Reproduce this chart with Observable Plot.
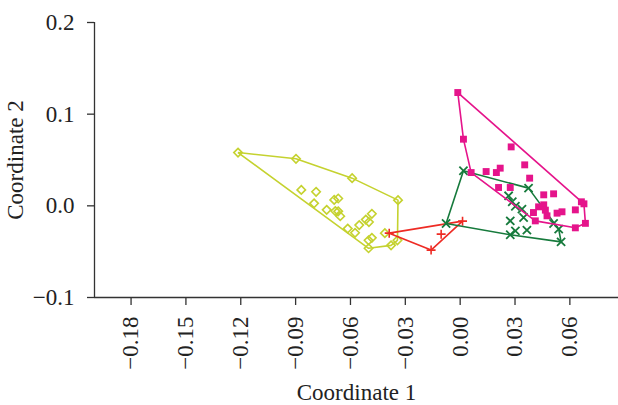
<!DOCTYPE html>
<html>
<head>
<meta charset="utf-8">
<script src="https://cdn.jsdelivr.net/npm/d3@7"></script>
<script src="https://cdn.jsdelivr.net/npm/@observablehq/plot@0.6"></script>
<style>
  html, body { margin: 0; padding: 0; background: #fff; }
</style>
</head>
<body>
<div id="chart"></div>
<script>
// Group 1 (yellow-green diamonds)
const yellowX = [-0.1215, -0.0898, -0.0591, -0.0340, -0.0343, -0.0378, -0.0501,
  -0.0869, -0.0788, -0.0799, -0.0689, -0.0667, -0.0730, -0.0683, -0.0667, -0.0656,
  -0.0615, -0.0575, -0.0552, -0.0516, -0.0499, -0.0483, -0.0412, -0.0501, -0.0483];
const yellowY = [0.0581, 0.0513, 0.0302, 0.0062, -0.0376, -0.0431, -0.0463,
  0.0174, 0.0153, 0.0027, 0.0065, 0.0080, -0.0044, -0.0057, -0.0060, -0.0113,
  -0.0248, -0.0294, -0.0210, -0.0150, -0.0177, -0.0087, -0.0298, -0.0376, -0.0349];

// Group 2 (red plus)
const redX = [-0.0388, 0.0013, -0.0159, -0.0104];
const redY = [-0.0298, -0.0167, -0.0483, -0.0309];

// Group 3 (green times)
const greenX = [0.0018, 0.0374, 0.0552, 0.0274, -0.0077, 0.0265, 0.0285, 0.0302,
  0.0338, 0.0347, 0.0274, 0.0302, 0.0365, 0.0511, 0.0539];
const greenY = [0.0382, 0.0193, -0.0393, -0.0316, -0.0193, 0.0109, 0.0044, -0.0005,
  -0.0036, -0.0128, -0.0164, -0.0273, -0.0265, -0.0193, -0.0254];

// Group 4 (pink squares)
const pinkX = [-0.0013, 0.0018, 0.0060, 0.0142, 0.0198, 0.0219, 0.0279, 0.0353, 0.0380,
  0.0210, 0.0274, 0.0457, 0.0511, 0.0663, 0.0677, 0.0630, 0.0685, 0.0630, 0.0429,
  0.0457, 0.0466, 0.0401, 0.0411, 0.0530, 0.0557, 0.0475];
const pinkY = [0.1236, 0.0727, 0.0363, 0.0374, 0.0363, 0.0411, 0.0643, 0.0447, 0.0302,
  0.0200, 0.0200, 0.0120, 0.0131, 0.0044, 0.0022, -0.0044, -0.0191, -0.0240, -0.0011,
  0.0011, -0.0047, -0.0073, -0.0164, -0.0080, -0.0065, -0.0109];

const xTicks = [-0.18, -0.15, -0.12, -0.09, -0.06, -0.03, 0.00, 0.03, 0.06];
const yTicks = [-0.1, 0.0, 0.1, 0.2];

const toRows = (xs, ys) => xs.map((x, i) => ({x, y: ys[i]}));
const yellow = toRows(yellowX, yellowY);
const red = toRows(redX, redY);
const green = toRows(greenX, greenY);
const pink = toRows(pinkX, pinkY);

const cYellow = "#c5d22f", cRed = "#ee2b24", cGreen = "#167a3c", cPink = "#e5148b";

const chart = Plot.plot({
  width: 618,
  height: 405,
  marginLeft: 94,
  marginRight: 0,
  marginTop: 22,
  marginBottom: 108,
  style: {fontFamily: "'Liberation Serif', 'DejaVu Serif', serif", fontSize: "23px", color: "#222", background: "#fff"},
  x: {domain: [-0.2, 0.0866]},
  y: {domain: [-0.1, 0.2]},
  marks: [
    Plot.axisX({ticks: xTicks, tickFormat: d3.format(".2f"), tickRotate: -90, tickSize: 8, tickPadding: 11,
      label: "Coordinate 1", labelAnchor: "center", labelArrow: "none", labelOffset: 102, stroke: "#333", strokeWidth: 1.3}),
    Plot.axisY({ticks: yTicks, tickFormat: d3.format(".1f"), tickSize: 7, tickPadding: 13,
      label: "Coordinate 2", labelAnchor: "center", labelArrow: "none", labelOffset: 88, stroke: "#333", strokeWidth: 1.3}),
    Plot.ruleX([-0.2], {stroke: "#333", strokeWidth: 1.3}),
    Plot.ruleY([-0.1], {stroke: "#333", strokeWidth: 1.3}),
    Plot.hull(yellow, {x: "x", y: "y", stroke: cYellow, strokeWidth: 1.6}),
    Plot.dot(yellow, {x: "x", y: "y", symbol: "diamond2", r: 3.8, stroke: cYellow, fill: "none", strokeWidth: 1.6}),
    Plot.hull(red, {x: "x", y: "y", stroke: cRed, strokeWidth: 1.6}),
    Plot.dot(red, {x: "x", y: "y", symbol: "plus", r: 3.0, stroke: cRed, fill: "none", strokeWidth: 1.6}),
    Plot.hull(green, {x: "x", y: "y", stroke: cGreen, strokeWidth: 1.6}),
    Plot.dot(green, {x: "x", y: "y", symbol: "times", r: 3.8, stroke: cGreen, fill: "none", strokeWidth: 1.8}),
    Plot.hull(pink, {x: "x", y: "y", stroke: cPink, strokeWidth: 1.6}),
    Plot.dot(pink, {x: "x", y: "y", symbol: "square", r: 3.9, fill: cPink, stroke: "none"})
  ]
});
document.getElementById("chart").appendChild(chart);
</script>
</body>
</html>
